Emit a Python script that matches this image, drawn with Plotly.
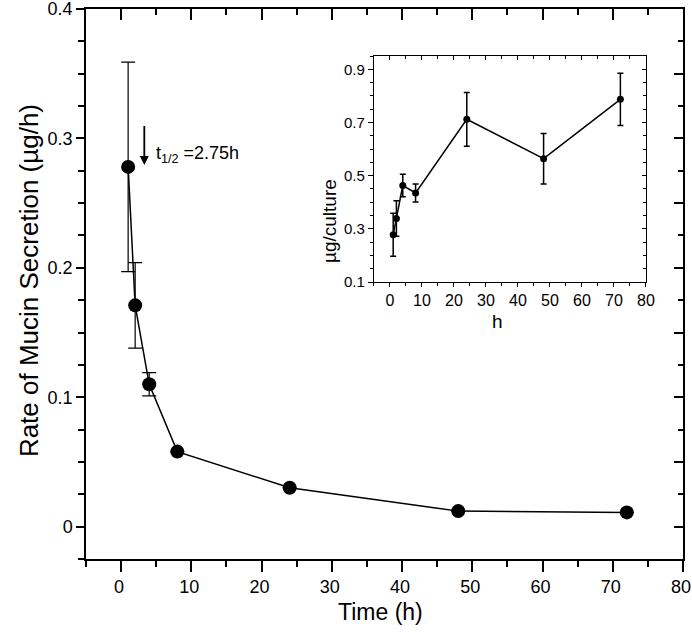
import plotly.graph_objects as go

# Main plot data: rate of mucin secretion
time_h = [1, 2, 4, 8, 24, 48, 72]
rate = [0.278, 0.171, 0.110, 0.058, 0.030, 0.012, 0.011]
rate_err = [0.081, 0.033, 0.009, 0, 0, 0, 0]

# Inset data: cumulative mucin per culture
inset_h = [1, 2, 4, 8, 24, 48, 72]
inset_ug = [0.278, 0.339, 0.463, 0.435, 0.712, 0.564, 0.787]
inset_err = [0.081, 0.067, 0.042, 0.034, 0.101, 0.095, 0.098]

# Tick labels
main_y_ticks = [0, 0.1, 0.2, 0.3, 0.4]
main_y_labels = ["0", "0.1", "0.2", "0.3", "0.4"]
main_x_ticks = [0, 10, 20, 30, 40, 50, 60, 70, 80]
inset_y_ticks = [0.1, 0.3, 0.5, 0.7, 0.9]
inset_y_labels = ["0.1", "0.3", "0.5", "0.7", "0.9"]
inset_x_ticks = [0, 10, 20, 30, 40, 50, 60, 70, 80]

FONT = "Arial, Liberation Sans, sans-serif"
BLACK = "black"

fig = go.Figure()

fig.add_trace(go.Scatter(
    x=time_h, y=rate, mode="lines+markers",
    line=dict(color=BLACK, width=1.5),
    marker=dict(color=BLACK, size=14),
    error_y=dict(type="data", array=rate_err, visible=True,
                 color=BLACK, thickness=1.2, width=7),
    xaxis="x", yaxis="y", showlegend=False, hoverinfo="skip"))

fig.add_trace(go.Scatter(
    x=inset_h, y=inset_ug, mode="lines+markers",
    line=dict(color=BLACK, width=1.5),
    marker=dict(color=BLACK, size=7),
    error_y=dict(type="data", array=inset_err, visible=True,
                 color=BLACK, thickness=1.5, width=3),
    xaxis="x2", yaxis="y2", showlegend=False, hoverinfo="skip"))

# dummy traces so mirror axes get drawn
for xa, ya in [("x3", "y"), ("x", "y3"), ("x4", "y2"), ("x2", "y4")]:
    fig.add_trace(go.Scatter(x=[None], y=[None], xaxis=xa, yaxis=ya,
                             showlegend=False, hoverinfo="skip"))

common = dict(showgrid=False, zeroline=False, showline=True,
              linecolor=BLACK, tickcolor=BLACK, ticklabeloverflow="allow")

main_x_range = [-5, 80]
main_y_range = [-0.025, 0.4]
inset_x_range = [-5, 80]
inset_y_range = [0.1, 0.95]


def minor(side, length, width, tick0, dtick):
    return dict(ticks=side, ticklen=length, tickwidth=width,
                tickcolor=BLACK, tickmode="linear", tick0=tick0, dtick=dtick)


layout = dict(
    width=692, height=642,
    margin=dict(l=86, r=9, t=9, b=83, autoexpand=False),
    paper_bgcolor="white", plot_bgcolor="white",
    font=dict(family=FONT, color=BLACK),
    xaxis=dict(**common, domain=[0, 1], anchor="y", range=main_x_range,
               linewidth=1.5, ticks="outside", ticklen=11, tickwidth=1.5,
               tickmode="array", tickvals=main_x_ticks, ticklabelshift=-2,
               tickfont=dict(size=18, family=FONT),
               minor=minor("outside", 6, 1.5, 0, 5)),
    yaxis=dict(**common, domain=[0, 1], anchor="x", range=main_y_range,
               linewidth=1.5, ticks="outside", ticklen=8, tickwidth=1.5,
               tickmode="array", tickvals=main_y_ticks,
               ticktext=main_y_labels,
               tickfont=dict(size=18, family=FONT),
               minor=minor("outside", 6, 1.5, 0, 0.025)),
    xaxis3=dict(**common, overlaying="x", side="top", anchor="y",
                range=main_x_range, linewidth=1.5, ticks="inside",
                ticklen=11, tickwidth=1.5, tickmode="array",
                tickvals=main_x_ticks, showticklabels=False,
                minor=minor("inside", 6, 1.5, 0, 5)),
    yaxis3=dict(**common, overlaying="y", side="right", anchor="x",
                range=main_y_range, linewidth=1.5, ticks="inside",
                ticklen=9, tickwidth=1.5, tickmode="linear", tick0=0,
                dtick=0.05, showticklabels=False,
                minor=minor("inside", 5, 1.5, 0, 0.025)),
    xaxis2=dict(**common, domain=[0.4824, 0.938], anchor="y2",
                range=inset_x_range, linewidth=1.3, ticks="outside",
                ticklen=4, tickwidth=1.3, tickmode="array",
                tickvals=inset_x_ticks, tickfont=dict(size=16, family=FONT),
                minor=minor("outside", 3, 1.3, 0, 5)),
    yaxis2=dict(**common, domain=[0.5036, 0.9145], anchor="x2",
                range=inset_y_range, linewidth=1.3, ticks="outside",
                ticklen=5, tickwidth=1.3, tickmode="array",
                tickvals=inset_y_ticks, ticktext=inset_y_labels,
                tickfont=dict(size=15, family=FONT),
                minor=minor("outside", 3, 1.3, 0.1, 0.05)),
    xaxis4=dict(**common, overlaying="x2", side="top", anchor="y2",
                range=inset_x_range, linewidth=1.3, ticks="inside",
                ticklen=4, tickwidth=1.3, tickmode="array",
                tickvals=inset_x_ticks, showticklabels=False,
                minor=minor("inside", 3, 1.3, 0, 5)),
    yaxis4=dict(**common, overlaying="y2", side="right", anchor="x2",
                range=inset_y_range, linewidth=1.3, ticks="inside",
                ticklen=4, tickwidth=1.3, tickmode="array",
                tickvals=inset_y_ticks, showticklabels=False,
                minor=minor("inside", 3, 1.3, 0.1, 0.05)),
)
fig.update_layout(**layout)

annotations = [
    # half-life arrow
    dict(x=3.3, y=0.2794, xref="x", yref="y", text="&nbsp;",
         showarrow=True, ax=0, ay=-43, arrowhead=2, arrowsize=1,
         arrowwidth=1.8, arrowcolor=BLACK, font=dict(size=4)),
    dict(x=4.7, y=0.2873, xref="x", yref="y", xanchor="left",
         yanchor="middle", text="t<sub>1/2</sub> =2.75h", showarrow=False,
         font=dict(size=18, family=FONT, color=BLACK)),
    # axis titles
    dict(x=-0.124, y=0.507, xref="paper", yref="paper",
         text="Rate of Mucin Secretion (µg/h)", textangle=-90,
         showarrow=False, font=dict(size=26, family=FONT, color=BLACK)),
    dict(x=0.4925, y=-0.1236, xref="paper", yref="paper",
         text="Time (h)", showarrow=False,
         font=dict(size=23, family=FONT, color=BLACK)),
    dict(x=0.407, y=0.6945, xref="paper", yref="paper",
         text="µg/culture", textangle=-90, showarrow=False,
         font=dict(size=19, family=FONT, color=BLACK)),
    dict(x=0.7018, y=0.431, xref="paper", yref="paper",
         text="h", showarrow=False,
         font=dict(size=19, family=FONT, color=BLACK)),
]
fig.update_layout(annotations=annotations)

fig.write_html(
    "out.html",
    config={"displayModeBar": False},
    post_script="document.body.style.margin='0';"
                "document.body.style.overflow='hidden';",
)
